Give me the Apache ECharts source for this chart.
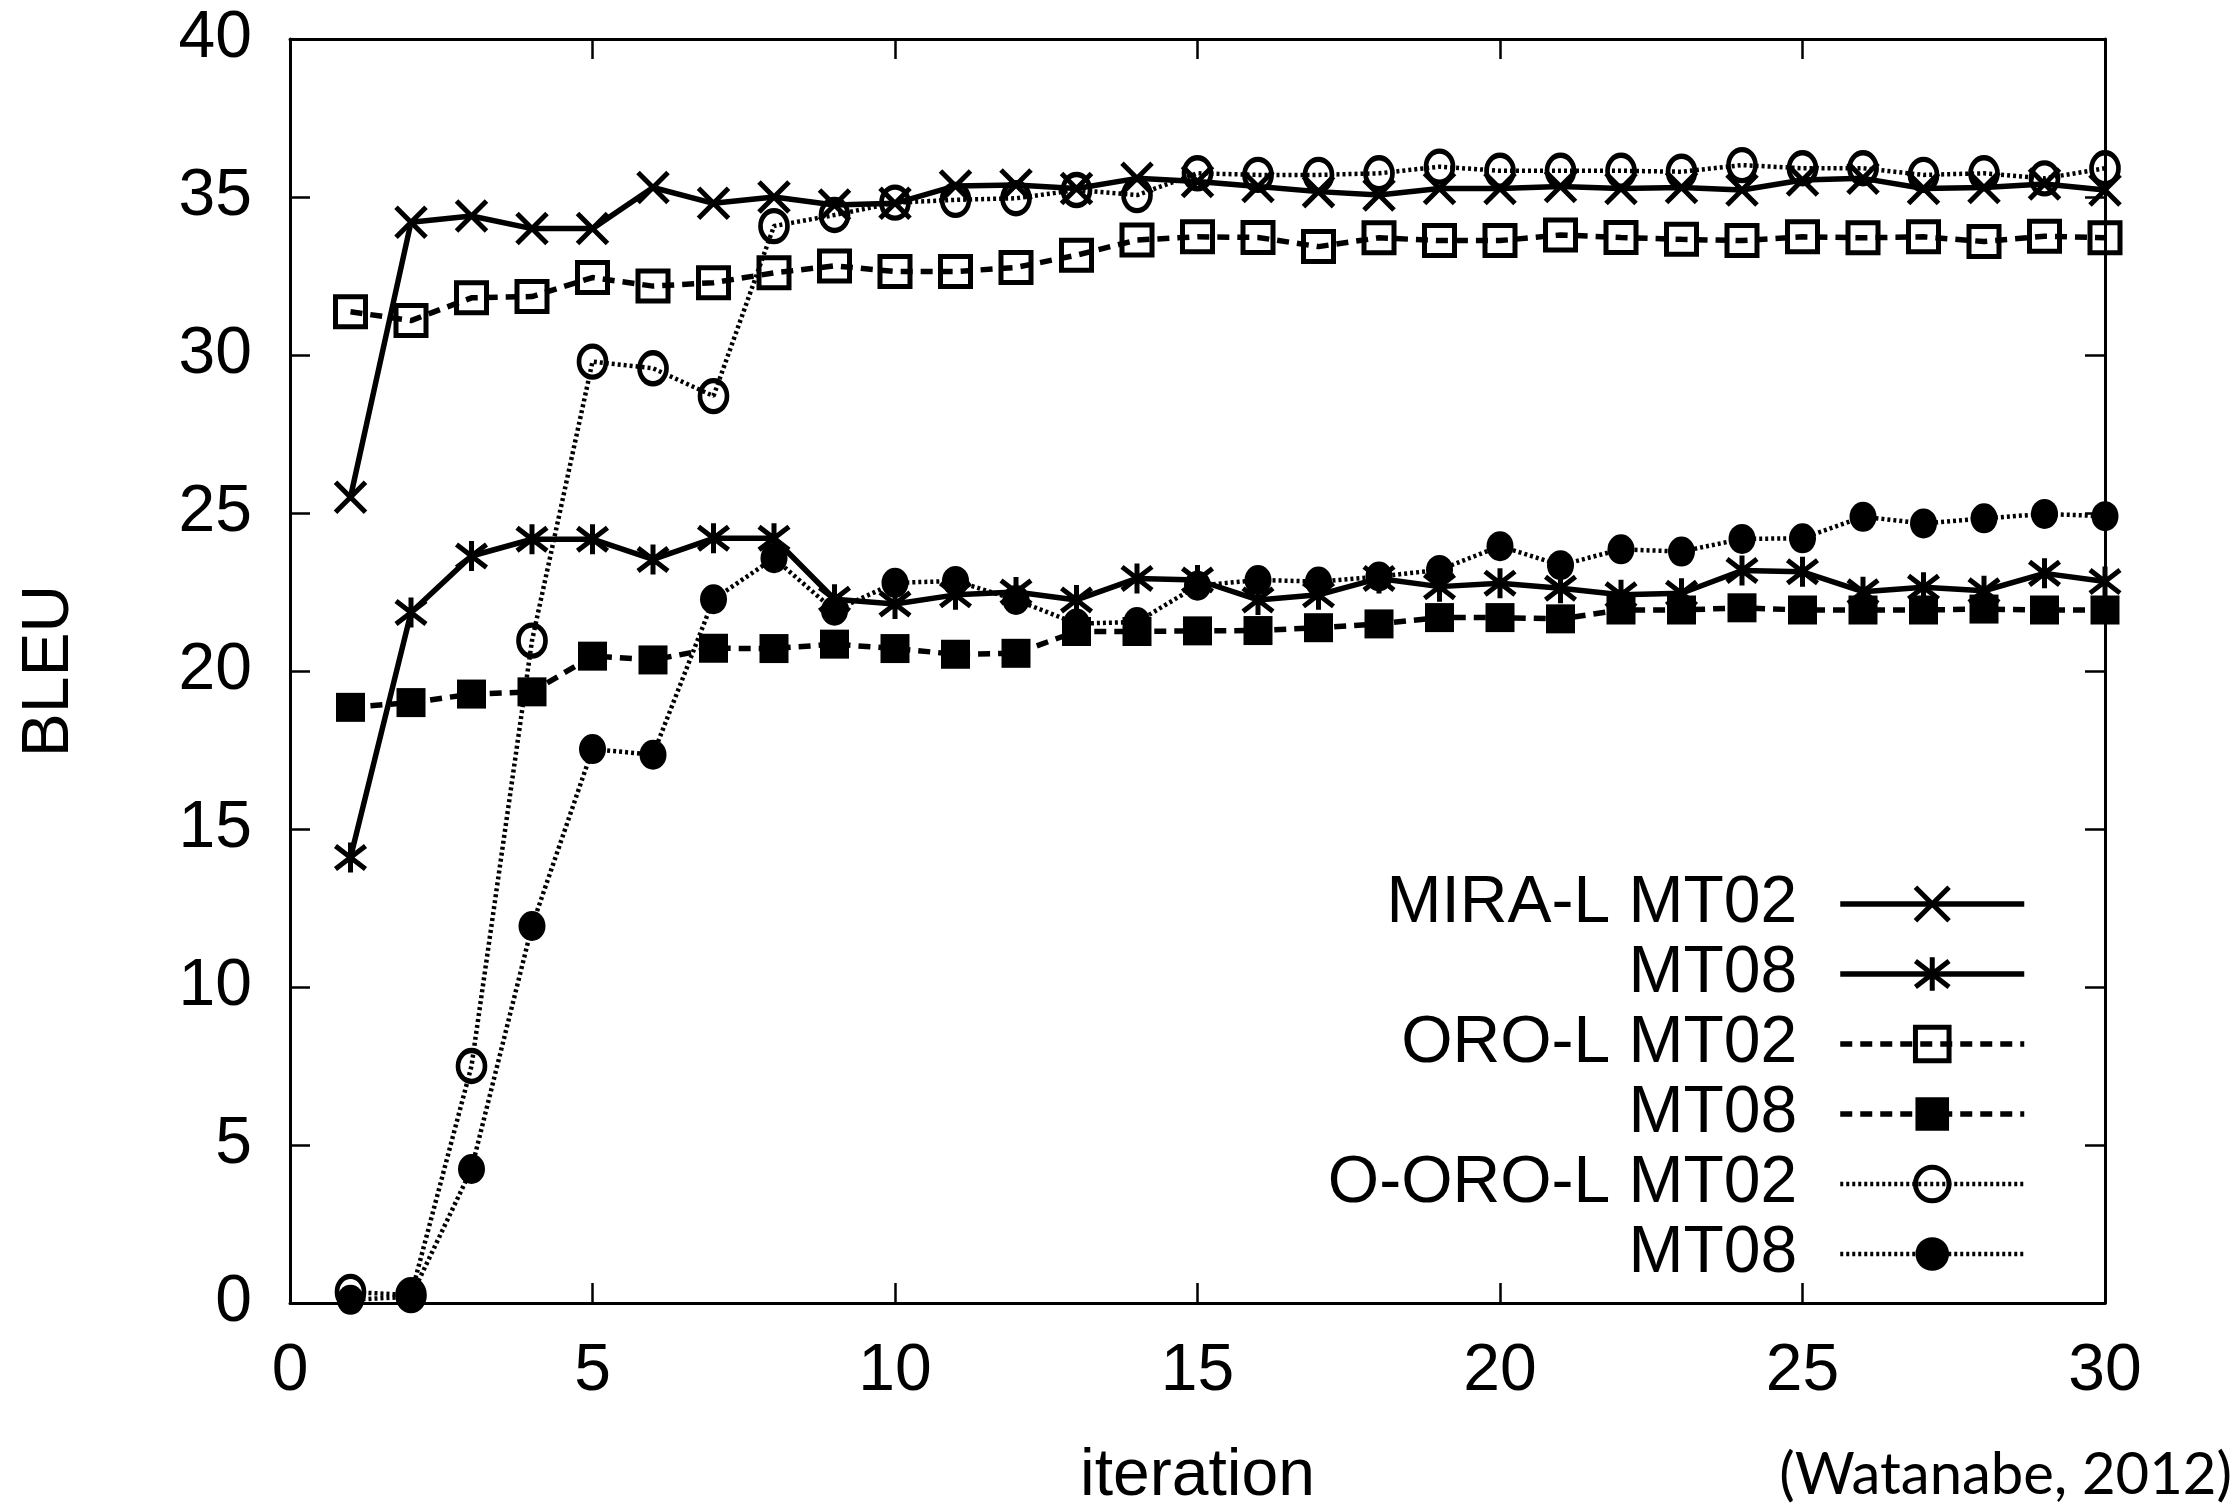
<!DOCTYPE html>
<html>
<head>
<meta charset="utf-8">
<script src="https://cdn.jsdelivr.net/npm/echarts@6/dist/echarts.min.js"></script>
<style>
  html, body { margin: 0; padding: 0; background: #fff; overflow: hidden; }
  #chart { width: 2234px; height: 1504px; }
</style>
</head>
<body>
<div id="chart"></div>
<script>
// iteration numbers on the x axis
const iterations = [1, 2, 3, 4, 5, 6, 7, 8, 9, 10, 11, 12, 13, 14, 15, 16, 17, 18, 19, 20, 21, 22, 23, 24, 25, 26, 27, 28, 29, 30]
const xTicks = [0, 5, 10, 15, 20, 25, 30]
const yTicks = [0, 5, 10, 15, 20, 25, 30, 35, 40]

// BLEU per iteration
const miraMt02 = [25.5, 34.2, 34.4, 34.0, 34.0, 35.3, 34.8, 35.0, 34.75, 34.8, 35.35, 35.38, 35.27, 35.59, 35.49, 35.33, 35.17, 35.06, 35.27, 35.27, 35.33, 35.27, 35.3, 35.22, 35.54, 35.59, 35.27, 35.3, 35.41, 35.22]
const miraMt08 = [14.1, 21.85, 23.64, 24.17, 24.17, 23.53, 24.2, 24.2, 22.27, 22.12, 22.41, 22.5, 22.25, 22.93, 22.88, 22.25, 22.41, 22.93, 22.67, 22.78, 22.62, 22.41, 22.46, 23.18, 23.14, 22.51, 22.65, 22.54, 23.09, 22.83]
const oroMt02 = [31.37, 31.09, 31.81, 31.85, 32.45, 32.18, 32.29, 32.6, 32.82, 32.64, 32.64, 32.77, 33.16, 33.64, 33.74, 33.72, 33.43, 33.71, 33.62, 33.62, 33.8, 33.72, 33.66, 33.62, 33.74, 33.71, 33.74, 33.59, 33.76, 33.71]
const oroMt08 = [18.85, 19.0, 19.27, 19.34, 20.47, 20.35, 20.72, 20.71, 20.85, 20.71, 20.53, 20.56, 21.25, 21.25, 21.27, 21.28, 21.37, 21.49, 21.69, 21.69, 21.65, 21.93, 21.93, 22.0, 21.93, 21.93, 21.93, 21.96, 21.93, 21.93]
const ooroMt02 = [0.35, 0.25, 7.5, 20.96, 29.79, 29.58, 28.7, 34.08, 34.43, 34.82, 34.91, 34.96, 35.22, 35.06, 35.75, 35.7, 35.7, 35.75, 35.96, 35.83, 35.83, 35.83, 35.8, 36.01, 35.91, 35.91, 35.7, 35.75, 35.59, 35.91]
const ooroMt08 = [0.1, 0.2, 4.24, 11.93, 17.53, 17.35, 22.27, 23.57, 21.91, 22.79, 22.85, 22.25, 21.5, 21.55, 22.7, 22.88, 22.83, 22.99, 23.2, 23.95, 23.35, 23.85, 23.78, 24.18, 24.2, 24.88, 24.67, 24.83, 24.97, 24.9]

// legend shows only the short text for the second line of each system
const legendText = {
  'MIRA-L MT02': 'MIRA-L MT02',
  'MIRA-L MT08': 'MT08',
  'ORO-L MT02': 'ORO-L MT02',
  'ORO-L MT08': 'MT08',
  'O-ORO-L MT02': 'O-ORO-L MT02',
  'O-ORO-L MT08': 'MT08'
}

const FONT = '"Liberation Sans", Arial, sans-serif'
const CROSS = 'path://M0,0L10,10M10,0L0,10'
const STAR = 'path://M0,0L10,10M10,0L0,10M5,-1.5L5,11.5'

function pairs(vals) {
  return iterations.map((x, i) => [x, vals[i]])
}

function makeSeries(name, vals, symbol, size, dash, width, filled) {
  return {
    name: name,
    type: 'line',
    data: pairs(vals),
    symbol: symbol,
    symbolSize: size,
    showAllSymbol: true,
    animation: false,
    lineStyle: { color: '#000', width: width, type: dash },
    itemStyle: {
      color: filled ? '#000' : 'rgba(0,0,0,0)',
      borderColor: '#000',
      borderWidth: filled ? 0 : 5,
      opacity: 1
    },
    emphasis: { disabled: true }
  }
}

function legendItem(name, filled, width) {
  return {
    name: name,
    itemStyle: { borderWidth: filled ? 0 : 5, borderColor: '#000', color: filled ? '#000' : 'rgba(0,0,0,0)' },
    lineStyle: { width: width, color: '#000' }
  }
}

const chart = echarts.init(document.getElementById('chart'))

const axisLine = { show: true, onZero: false, lineStyle: { color: '#000', width: 3 } }
const tickIn = { show: true, inside: true, length: 20, lineStyle: { color: '#000', width: 2.5 } }

chart.setOption({
  backgroundColor: '#fff',
  animation: false,
  grid: { left: 290, right: 129, top: 39, bottom: 201, containLabel: false, outerBoundsMode: 'none' },
  xAxis: [
    {
      type: 'value', min: xTicks[0], max: xTicks[xTicks.length - 1], interval: 5,
      name: 'iteration', nameLocation: 'middle', nameGap: 141,
      nameTextStyle: { fontFamily: FONT, fontSize: 66, color: '#000' },
      axisLine: axisLine, axisTick: tickIn,
      axisLabel: { fontFamily: FONT, fontSize: 66, color: '#000', margin: 36 },
      splitLine: { show: false }
    },
    {
      type: 'value', position: 'top', min: 0, max: 30, interval: 5,
      axisLine: axisLine, axisTick: tickIn, axisLabel: { show: false }, splitLine: { show: false }
    }
  ],
  yAxis: [
    {
      type: 'value', min: yTicks[0], max: yTicks[yTicks.length - 1], interval: 5,
      name: 'BLEU', nameLocation: 'middle', nameGap: 207, nameRotate: 90,
      nameTextStyle: { fontFamily: FONT, fontSize: 66, color: '#000' },
      axisLine: axisLine, axisTick: tickIn,
      axisLabel: { fontFamily: FONT, fontSize: 66, color: '#000', margin: 38 },
      splitLine: { show: false }
    },
    {
      type: 'value', position: 'right', min: 0, max: 40, interval: 5,
      axisLine: axisLine, axisTick: tickIn, axisLabel: { show: false }, splitLine: { show: false }
    }
  ],
  legend: {
    orient: 'vertical',
    align: 'right',
    right: 202,
    top: 866,
    itemWidth: 184,
    itemHeight: 42,
    itemGap: 4,
    selectedMode: false,
    formatter: (name) => legendText[name],
    textStyle: { fontFamily: FONT, fontSize: 66, color: '#000', lineHeight: 62, padding: [0, 38, 0, 0] },
    data: [
      legendItem('MIRA-L MT02', false, 5.5),
      legendItem('MIRA-L MT08', false, 5.5),
      legendItem('ORO-L MT02', false, 5.5),
      legendItem('ORO-L MT08', true, 5.5),
      legendItem('O-ORO-L MT02', false, 4.5),
      legendItem('O-ORO-L MT08', true, 4.5)
    ]
  },
  graphic: [
    {
      type: 'text', right: 2, top: 1446,
      style: { text: '(Watanabe, 2012)', fontFamily: 'Lato, "Open Sans", sans-serif', fontSize: 58, fill: '#000' }
    }
  ],
  series: [
    makeSeries('MIRA-L MT02', miraMt02, CROSS, 30, 'solid', 5.5, false),
    makeSeries('MIRA-L MT08', miraMt08, STAR, 30, 'solid', 5.5, false),
    makeSeries('ORO-L MT02', oroMt02, 'rect', 30, [12, 8], 5.5, false),
    makeSeries('ORO-L MT08', oroMt08, 'rect', 29, [12, 8], 5.5, true),
    makeSeries('O-ORO-L MT02', ooroMt02, 'circle', [27, 31], [3, 3], 4.5, false),
    makeSeries('O-ORO-L MT08', ooroMt08, 'circle', [27, 30], [3, 3], 4.5, true)
  ]
})
</script>
</body>
</html>
